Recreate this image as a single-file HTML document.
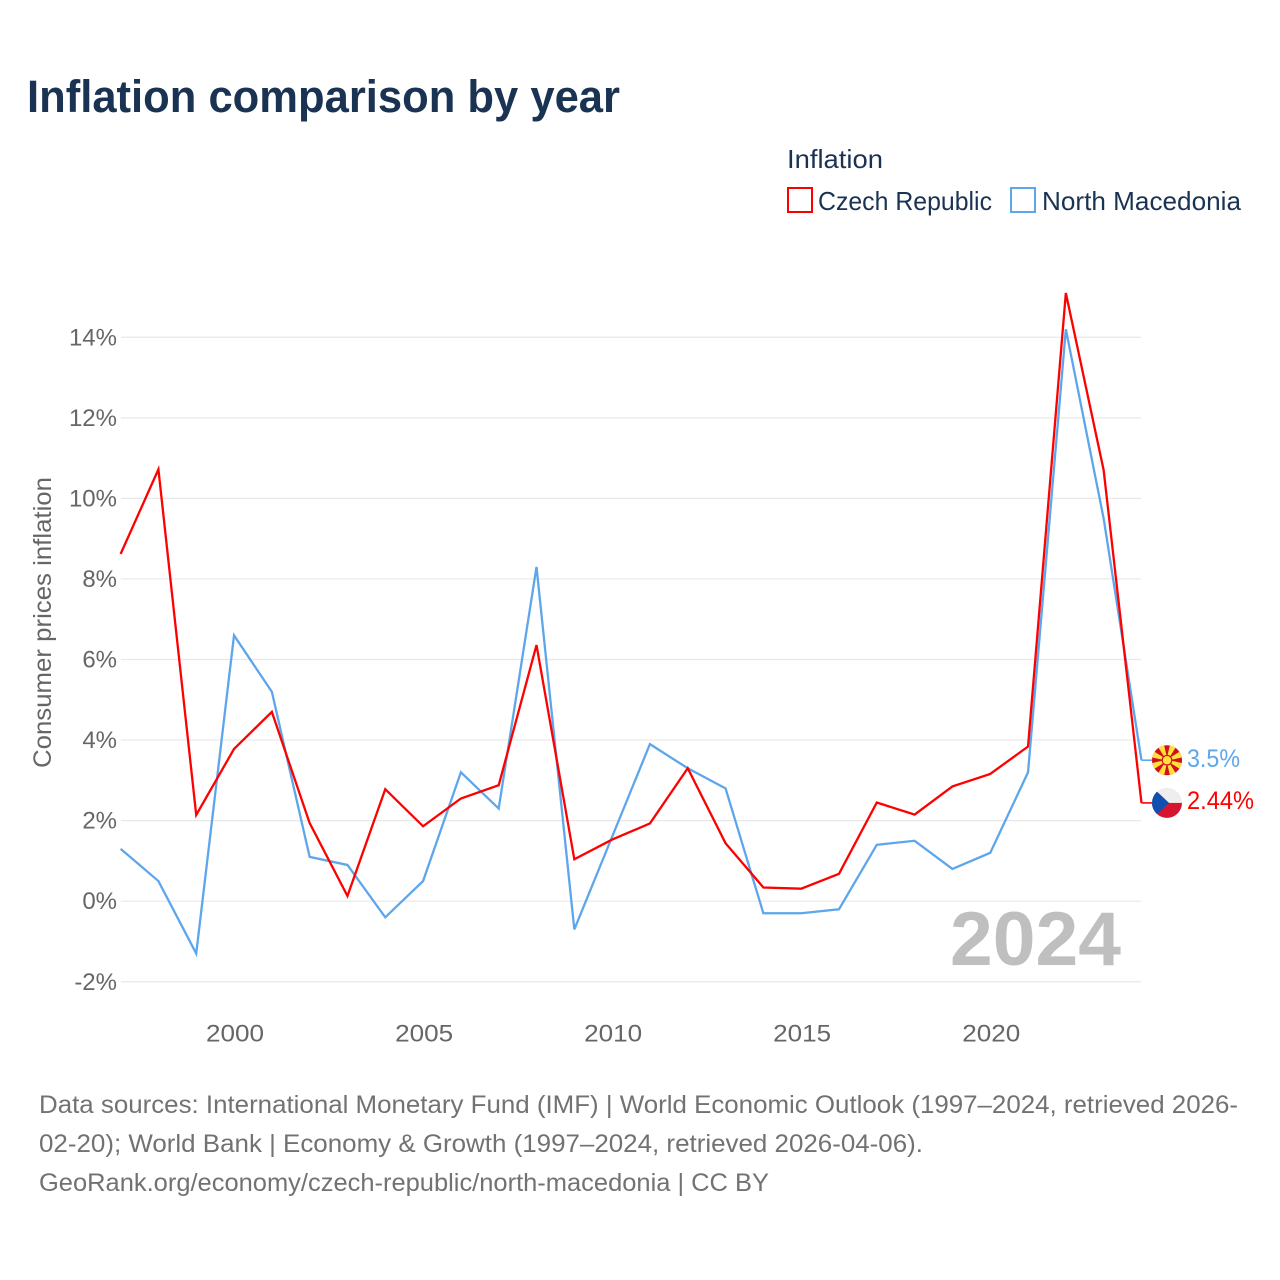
<!DOCTYPE html>
<html lang="en">
<head>
<meta charset="utf-8">
<title>Inflation comparison by year</title>
<style>
html,body{margin:0;padding:0;background:#fff}
svg{display:block}
text{font-family:"Liberation Sans",sans-serif}
</style>
</head>
<body>
<svg id="chart" xmlns="http://www.w3.org/2000/svg" width="1280" height="1280" viewBox="0 0 1280 1280">
  <rect x="0" y="0" width="1280" height="1280" fill="#ffffff"/>
  <text x="27" y="112" font-size="45" font-weight="700" fill="#1a3353" textLength="593" lengthAdjust="spacingAndGlyphs">Inflation comparison by year</text>
  <text x="787" y="168" font-size="26" fill="#1a3353" textLength="96" lengthAdjust="spacingAndGlyphs">Inflation</text>
  <rect x="788" y="188" width="24" height="24" fill="none" stroke="#ff0000" stroke-width="2"/>
  <text x="818" y="210" font-size="26" fill="#1a3353" textLength="174" lengthAdjust="spacingAndGlyphs">Czech Republic</text>
  <rect x="1011" y="188" width="24" height="24" fill="none" stroke="#5ea6ec" stroke-width="2"/>
  <text x="1042" y="210" font-size="26" fill="#1a3353" textLength="199" lengthAdjust="spacingAndGlyphs">North Macedonia</text>
  <g id="grid"></g>
  <g id="yticks"></g>
  <g id="xticks"></g>
  <text transform="translate(51,768) rotate(-90)" x="0" y="0" font-size="25" fill="#666666" textLength="291" lengthAdjust="spacingAndGlyphs">Consumer prices inflation</text>
  <text x="950" y="965" font-size="76" font-weight="700" fill="#bfbfbf" textLength="171" lengthAdjust="spacingAndGlyphs">2024</text>
  <g id="series"></g>
  <defs>
    <clipPath id="mk-clip"><circle id="mk-clip-c" cx="0" cy="0" r="15"/></clipPath>
    <clipPath id="cz-clip"><circle id="cz-clip-c" cx="0" cy="0" r="15"/></clipPath>
  </defs>
  <g id="flag-mk" transform="translate(1167,760)"></g>
  <g id="flag-cz" transform="translate(1167,802)"></g>
  <text id="label-mk" x="1187" y="767" font-size="25" fill="#5ea6ec" textLength="53" lengthAdjust="spacingAndGlyphs">3.5%</text>
  <text id="label-cz" x="1187" y="809" font-size="25" fill="#ff0000" textLength="67" lengthAdjust="spacingAndGlyphs">2.44%</text>
  <g font-size="25" fill="#727272">
    <text x="39" y="1113" textLength="1199" lengthAdjust="spacingAndGlyphs">Data sources: International Monetary Fund (IMF) | World Economic Outlook (1997–2024, retrieved 2026-</text>
    <text x="39" y="1152" textLength="884" lengthAdjust="spacingAndGlyphs">02-20); World Bank | Economy &amp; Growth (1997–2024, retrieved 2026-04-06).</text>
    <text x="39" y="1191" textLength="730" lengthAdjust="spacingAndGlyphs">GeoRank.org/economy/czech-republic/north-macedonia | CC BY</text>
  </g>
</svg>
<script>
const years = [1997,1998,1999,2000,2001,2002,2003,2004,2005,2006,2007,2008,2009,2010,2011,2012,2013,2014,2015,2016,2017,2018,2019,2020,2021,2022,2023,2024];
const czechInflation = [8.62,10.72,2.14,3.78,4.70,1.94,0.13,2.78,1.86,2.55,2.88,6.36,1.04,1.53,1.93,3.30,1.44,0.34,0.31,0.68,2.45,2.15,2.85,3.16,3.84,15.10,10.70,2.44];
const macedoniaInflation = [1.3,0.5,-1.3,6.6,5.2,1.1,0.9,-0.4,0.5,3.2,2.3,8.3,-0.7,1.6,3.9,3.3,2.8,-0.3,-0.3,-0.2,1.4,1.5,0.8,1.2,3.2,14.2,9.5,3.5];
const yTickValues = [-2,0,2,4,6,8,10,12,14];
const xTickValues = [2000,2005,2010,2015,2020];

const NS = 'http://www.w3.org/2000/svg';
function xScale(year){ return 120.6 + (year - 1997) * 37.81; }
function yScale(value){ return 901.2 - value * 40.28; }
function make(tag, attrs, parent){
  const el = document.createElementNS(NS, tag);
  for (const k in attrs) el.setAttribute(k, attrs[k]);
  parent.appendChild(el);
  return el;
}

const grid = document.getElementById('grid');
const yticks = document.getElementById('yticks');
yTickValues.forEach(function(v){
  const line = make('line', {x1:121, x2:1141, y1:yScale(v), y2:yScale(v), stroke:'#e8e8e8', 'stroke-width':1.2}, grid);
  
  
  const t = make('text', {x:117, y:yScale(v)+8, 'text-anchor':'end', 'font-size':24, fill:'#666666'}, yticks);
  
  
  t.textContent = v + '%';
});

const xticks = document.getElementById('xticks');
xTickValues.forEach(function(v){
  const t = make('text', {x:xScale(v)+1, y:1041.5, 'text-anchor':'middle', 'font-size':24, fill:'#666666', textLength:58, lengthAdjust:'spacingAndGlyphs'}, xticks);
  
  
  t.textContent = v;
});

const seriesGroup = document.getElementById('series');
function pathFor(values){
  return values.map(function(v,i){ return (i?'L':'M') + xScale(years[i]).toFixed(2) + ' ' + yScale(v).toFixed(2); }).join(' ');
}
const macedoniaLine = make('path', {d:pathFor(macedoniaInflation), fill:'none', stroke:'#5ea6ec', 'stroke-width':2.3, 'stroke-linejoin':'miter'}, seriesGroup);


const czechLine = make('path', {d:pathFor(czechInflation), fill:'none', stroke:'#ff0000', 'stroke-width':2.3, 'stroke-linejoin':'miter'}, seriesGroup);



const lastIndex = years.length - 1;
const lastX = xScale(years[lastIndex]);
const mkY = yScale(macedoniaInflation[lastIndex]);
const czY = yScale(czechInflation[lastIndex]);
const mkConnector = make('line', {x1:lastX, x2:1152, y1:mkY, y2:mkY, stroke:'#5ea6ec', 'stroke-width':1.6}, seriesGroup);


const czConnector = make('line', {x1:lastX, x2:1152, y1:czY, y2:czY, stroke:'#ff0000', 'stroke-width':1.6}, seriesGroup);



document.getElementById('label-mk').textContent = macedoniaInflation[lastIndex] + '%';
document.getElementById('label-cz').textContent = czechInflation[lastIndex] + '%';

/* flags */
const mk = document.getElementById('flag-mk');
mk.setAttribute('transform', 'translate(1167,' + mkY + ')');
const mkInner = make('g', {'clip-path':'url(#mk-clip)'}, mk);
make('rect', {x:-16, y:-16, width:32, height:32, fill:'#d20f1e'}, mkInner);
[0,45,90,135,180,225,270,315].forEach(function(a){
  make('polygon', {points:'-0.6,0 0.6,0 3.4,-17 -3.4,-17', fill:'#ffe13a', transform:'rotate(' + (a + 22.5) + ')'}, mkInner);
});
make('circle', {cx:0, cy:0, r:5.4, fill:'#d20f1e'}, mkInner);
make('circle', {cx:0, cy:0, r:4.2, fill:'#ffe13a'}, mkInner);

const cz = document.getElementById('flag-cz');
cz.setAttribute('transform', 'translate(1167,' + czY + ')');
const czInner = make('g', {'clip-path':'url(#cz-clip)'}, cz);
make('rect', {x:-16, y:-16, width:32, height:16, fill:'#eeeeee'}, czInner);
make('rect', {x:-16, y:0, width:32, height:16, fill:'#d7142f'}, czInner);
make('polygon', {points:'-16,-17 2,0 -16,17', fill:'#0f4fb0'}, czInner);
</script>
</body>
</html>
